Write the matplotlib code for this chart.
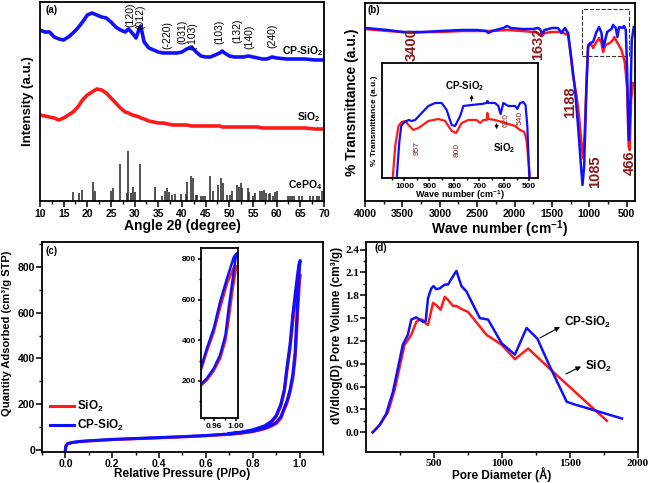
import numpy as np
import matplotlib
matplotlib.use('Agg')
import matplotlib.pyplot as plt
from matplotlib.patches import Rectangle

plt.rcParams['font.family'] = ['Liberation Sans', 'DejaVu Sans']
plt.rcParams['font.weight'] = 'bold'
plt.rcParams['axes.labelweight'] = 'bold'
plt.rcParams['axes.linewidth'] = 1.3
plt.rcParams['mathtext.default'] = 'regular'

BLUE = '#1010ff'
RED = '#ff1a1a'
MAROON = '#8b1a1a'

# ---------------- (a) XRD ----------------
xrd_angle = [10, 11, 12, 13, 14, 15, 16, 17, 18, 19, 20, 21, 22, 23, 24, 25, 26, 27, 28,
             28.7, 29.5, 30.3, 31.0, 31.3, 32, 33, 34, 35, 36, 37, 38, 39, 40, 41, 42, 43,
             44, 45, 46, 47, 48, 48.5, 49, 50, 51, 52, 53, 54, 55, 56, 57, 58, 59, 60,
             62, 64, 66, 68, 70]
xrd_cp = [171, 169, 169, 164, 162, 161, 164, 168, 173, 179, 186, 188, 186, 184, 183, 179,
          174, 171, 169, 172, 168, 163, 173, 175, 159, 153, 151, 149, 148, 148, 148, 148,
          149, 152, 154, 149, 145, 144, 144, 146, 148, 150, 148, 145, 144, 144, 144, 145,
          144, 143, 142, 142, 144, 143, 142, 142, 142, 141, 141]
xrd_sio2 = [86, 85, 84, 83, 81, 83, 86, 89, 94, 101, 106, 109, 112, 111, 108, 103, 98, 93,
            89, 88, 86, 85, 84, 83, 82, 80, 79, 78, 78, 77, 76, 76, 76, 76, 75, 75, 75, 75,
            75, 75, 75, 74, 74, 74, 74, 74, 74, 74, 74, 74, 73, 73, 73, 73, 73, 73, 73, 72, 72]

cepo4_pos = [16.9, 18.3, 18.9, 21.1, 21.6, 25.0, 25.4, 26.9, 28.3, 28.7, 29.2, 29.7, 30.1,
             31.1, 34.4, 35.8, 36.5, 36.8, 37.3, 37.8, 38.5, 39.9, 40.8, 41.0, 42.0, 42.3,
             42.9, 43.2, 44.0, 44.4, 44.9, 45.9, 46.6, 47.7, 48.2, 48.6, 49.6, 50.1, 50.6,
             51.7, 52.1, 52.4, 52.7, 53.9, 54.1, 55.1, 55.5, 56.5, 57.0, 57.3, 57.7, 58.3,
             58.7, 59.3, 59.7, 60.1, 62.5, 62.8, 63.2, 63.7, 64.8, 65.3, 67.0, 67.7, 68.5,
             69.0, 69.5]
cepo4_int = [8.7, 8, 11, 19, 10, 10, 13, 37, 8, 50, 8, 14, 9, 37, 14, 5, 10, 13, 9, 6, 7, 7,
             7, 19, 25, 23, 6, 6, 5, 5, 5, 25, 10, 16, 23, 18, 6, 6, 10, 16, 14, 18, 13, 13,
             9, 5, 8, 10, 10, 11, 8, 7, 8, 5, 9, 10, 5, 5, 5, 5, 5, 5, 5, 5, 5, 5, 10]

hkl_labels = ['(120)', '(012)', '(-220)', '(031)', '(-103)', '(103)', '(132)', '(140)', '(240)']
hkl_pos = [29.1, 31.2, 37.0, 40.0, 42.1, 48.0, 51.8, 54.2, 59.1]
hkl_y = [186, 184, 166, 169, 165, 169, 170, 164, 165]

# ---------------- (b) FTIR ----------------
ftir_wn_cp = [4000, 3700, 3500, 3400, 3200, 3000, 2700, 2500, 2380, 2350, 2300, 2150, 2100,
              2050, 1900, 1750, 1690, 1660, 1632, 1600, 1500, 1420, 1372, 1328, 1284, 1239,
              1195, 1150, 1118, 1092, 1070, 1039, 1017, 985, 950, 905, 870, 838, 816, 794,
              763, 705, 683, 647, 625, 603, 558, 536, 513, 496, 477, 469, 451, 433, 406]
ftir_cp = [173, 171, 169, 169, 169, 170, 171, 171, 170, 168, 170, 173, 175, 173, 172, 172,
           173, 172, 167, 171, 173, 173, 168, 173, 168, 141, 114, 74, 41, 16, 34, 114, 154,
           158, 159, 169, 174, 168, 154, 159, 169, 172, 176, 173, 164, 174, 173, 175, 171,
           134, 68, 61, 101, 161, 174]
ftir_wn_sio2 = [4000, 3700, 3500, 3400, 3200, 3000, 2700, 2500, 2300, 2100, 1900, 1750, 1690,
                1632, 1600, 1500, 1400, 1350, 1284, 1253, 1217, 1173, 1137, 1106, 1084, 1062,
                1039, 1017, 985, 950, 905, 870, 838, 816, 783, 727, 683, 668, 630, 571, 527,
                496, 474, 460, 442, 416]
ftir_sio2 = [172, 170, 169, 168, 169, 169, 170, 170, 170, 171, 170, 169, 168, 165, 168, 169,
             169, 168, 166, 148, 124, 106, 84, 58, 43, 68, 118, 156, 158, 153, 159, 163, 158,
             149, 156, 158, 161, 164, 159, 151, 139, 114, 54, 51, 101, 118]
ftir_labels = ['3400', '1632', '1188', '1085', '466']
ftir_label_x = [3372, 1690, 1254, 918, 460]
ftir_label_y = [156, 157, 99, 29, 38]

inset_wn_cp = [1031, 1021, 1013, 1004, 984, 971, 957, 931, 904, 877, 851, 831, 811, 797, 777,
               764, 731, 691, 671, 668, 664, 637, 624, 615, 604, 584, 557, 548, 537, 524, 515,
               508, 500]
inset_cp = [0, 35, 52, 55, 58, 57, 58, 65, 72, 75, 75, 68, 53, 52, 62, 72, 73, 74, 75, 77, 75,
            75, 72, 64, 75, 72, 72, 69, 75, 76, 73, 52, 0]
inset_wn_sio2 = [1047, 1037, 1024, 1011, 997, 984, 964, 944, 904, 864, 837, 811, 793, 771, 744,
                 711, 697, 684, 671, 668, 664, 637, 597, 557, 537, 520, 511, 497]
inset_sio2 = [0, 32, 52, 56, 57, 53, 48, 50, 57, 59, 57, 47, 45, 55, 58, 58, 55, 58, 58, 65,
              59, 58, 55, 52, 48, 46, 38, 0]
inset_labels = ['957', '800', '620', '540']
inset_label_x = [951, 791, 591, 535]
inset_label_y = [30, 28, 58, 60]

# ---------------- (c) N2 isotherm ----------------
p_ads = [0.0, 0.002, 0.01, 0.03, 0.06, 0.1, 0.2, 0.3, 0.4, 0.5, 0.6, 0.7, 0.75, 0.8, 0.85,
         0.88, 0.9, 0.92, 0.935, 0.946, 0.959, 0.971, 0.981, 0.987, 0.994, 1.0, 1.003]
cp_ads = [0, 18, 28, 33, 37, 40, 46, 50, 54, 58, 63, 70, 75, 82, 95, 108, 120, 145, 184, 213,
          262, 328, 426, 557, 689, 803, 828]
sio2_ads = [0, 17, 27, 32, 36, 39, 45, 49, 53, 57, 62, 68, 73, 80, 92, 104, 115, 138, 178,
            204, 250, 310, 400, 500, 640, 740, 760]
p_des = [1.003, 0.997, 0.984, 0.971, 0.959, 0.946, 0.935, 0.92, 0.9, 0.88, 0.85, 0.8, 0.75,
         0.7]
cp_des = [828, 811, 705, 590, 459, 360, 265, 200, 150, 125, 105, 88, 78, 72]
sio2_des = [765, 760, 680, 560, 440, 345, 255, 192, 145, 120, 100, 85, 76, 70]

# ---------------- (d) pore size distribution ----------------
d_cp = [50, 99, 148, 198, 271, 308, 333, 370, 394, 419, 439, 456, 480, 497, 517, 542, 579,
        603, 640, 665, 702, 739, 775, 837, 898, 997, 1095, 1181, 1260, 1353, 1476, 1525, 1882]
v_cp = [0.0, 0.09, 0.24, 0.53, 1.15, 1.28, 1.48, 1.51, 1.48, 1.45, 1.46, 1.76, 1.89, 1.92,
        1.88, 1.89, 1.94, 1.94, 2.05, 2.12, 1.92, 1.85, 1.72, 1.50, 1.48, 1.17, 1.02, 1.37,
        1.23, 0.86, 0.40, 0.37, 0.18]
d_sio2 = [50, 99, 161, 210, 284, 308, 333, 370, 394, 414, 439, 456, 493, 517, 549, 579, 603,
          640, 665, 702, 751, 886, 997, 1095, 1193, 1378, 1771]
v_sio2 = [0.0, 0.09, 0.26, 0.55, 1.15, 1.21, 1.28, 1.45, 1.48, 1.48, 1.43, 1.41, 1.70, 1.67,
          1.61, 1.78, 1.74, 1.66, 1.66, 1.62, 1.58, 1.28, 1.15, 0.96, 1.10, 0.79, 0.15]


def style_ticks(ax, size=7.5, length=4, pad=1.5):
    ax.tick_params(which='major', direction='out', length=length, width=1.1, labelsize=size,
                   pad=pad)
    ax.tick_params(which='minor', direction='out', length=length * 0.55, width=1.0)
    for lab in ax.get_xticklabels() + ax.get_yticklabels():
        lab.set_fontweight('bold')


fig = plt.figure(figsize=(6.52, 4.83), dpi=100)

# (a)
ax = fig.add_axes([0.0613, 0.5839, 0.4356, 0.4120])
ax.plot(xrd_angle, xrd_cp, color=BLUE, lw=2.6)
ax.plot(xrd_angle, xrd_sio2, color=RED, lw=2.6)
ax.vlines(cepo4_pos, 0, cepo4_int, color='#333333', lw=1.2)
ax.set_xlim(10, 70)
ax.set_ylim(0, 199)
ax.set_xticks(range(10, 71, 5))
ax.set_xticks(np.arange(12.5, 70, 5), minor=True)
ax.set_yticks([])
style_ticks(ax)
ax.set_xlabel('Angle 2θ (degree)', fontsize=10, labelpad=0)
ax.set_ylabel('Intensity (a.u.)', fontsize=9.5, labelpad=4)
for lab, x, y in zip(hkl_labels, hkl_pos, hkl_y):
    ax.text(x, y, lab, rotation=90, ha='center', va='center', fontsize=7.5, fontweight='normal')
ax.text(11.1, 191, '(a)', fontsize=7, ha='left', va='center')
ax.text(61.2, 150, 'CP-SiO$_2$', fontsize=7.5, ha='left', va='center')
ax.text(64.3, 84, 'SiO$_2$', fontsize=7.5, ha='left', va='center')
ax.text(62.4, 16, 'CePO$_4$', fontsize=7.5, ha='left', va='center')

# (b)
ax = fig.add_axes([0.5598, 0.5839, 0.4141, 0.4099])
ax.plot(ftir_wn_sio2, ftir_sio2, color=RED, lw=1.8)
ax.plot(ftir_wn_cp, ftir_cp, color=BLUE, lw=1.8)
ax.set_xlim(4000, 390)
ax.set_ylim(0, 198)
ax.set_xticks(range(4000, 499, -500))
ax.set_xticks(range(3750, 499, -500), minor=True)
ax.set_yticks([])
style_ticks(ax)
ax.set_xlabel('Wave number (cm$^{-1}$)', fontsize=10, labelpad=0)
ax.set_ylabel('% Transmittance (a.u.)', fontsize=10, labelpad=4)
ax.add_patch(Rectangle((1101, 145), 473 - 1101, 47, fill=False, ls='--', lw=0.8, ec='#333333'))
for lab, x, y in zip(ftir_labels, ftir_label_x, ftir_label_y):
    ax.text(x, y, lab, rotation=90, ha='center', va='center', fontsize=10.5, color=MAROON)
ax.text(3960, 191, '(b)', fontsize=7, ha='left', va='center')

# inset of (b)
ax = fig.add_axes([0.5859, 0.6315, 0.2393, 0.2381])
ax.plot(inset_wn_sio2, inset_sio2, color=RED, lw=1.6)
ax.plot(inset_wn_cp, inset_cp, color=BLUE, lw=1.6)
ax.set_xlim(1090, 465)
ax.set_ylim(0, 115)
ax.set_xticks(range(1000, 499, -100))
ax.set_xticks(range(1050, 499, -100), minor=True)
ax.set_yticks([])
style_ticks(ax, size=6, length=2.5, pad=0.8)
ax.set_xlabel('Wave number (cm$^{-1}$)', fontsize=6.5, labelpad=-1)
ax.set_ylabel('% Transmittance (a.u.)', fontsize=6, labelpad=3)
for lab, x, y in zip(inset_labels, inset_label_x, inset_label_y):
    ax.text(x, y, lab, rotation=90, ha='center', va='center', fontsize=6, fontweight='normal',
            color=MAROON)
ax.text(760, 92, 'CP-SiO$_2$', fontsize=7, ha='center', va='center')
ax.annotate('', xy=(731, 86), xytext=(731, 74),
            arrowprops=dict(arrowstyle='-|>', color='black', lw=0.7, mutation_scale=5))
ax.text(600, 30, 'SiO$_2$', fontsize=7, ha='center', va='center')
ax.annotate('', xy=(631, 46), xytext=(631, 57),
            arrowprops=dict(arrowstyle='-|>', color='black', lw=0.7, mutation_scale=5))

# (c)
ax = fig.add_axes([0.0644, 0.0642, 0.4310, 0.4348])
ax.plot(p_ads + p_des, sio2_ads + sio2_des, color=RED, lw=2.2, label='SiO$_2$')
ax.plot(p_ads + p_des, cp_ads + cp_des, color=BLUE, lw=2.2, label='CP-SiO$_2$')
ax.set_xlim(-0.1, 1.1)
ax.set_ylim(-9, 909)
ax.set_xticks(np.arange(0, 1.01, 0.2))
ax.set_xticks(np.arange(-0.1, 1.11, 0.2), minor=True)
ax.set_yticks(range(0, 801, 200))
ax.set_yticks(range(100, 901, 200), minor=True)
ax.xaxis.set_major_formatter(matplotlib.ticker.FormatStrFormatter('%.1f'))
style_ticks(ax, pad=1)
ax.set_xlabel('Relative Pressure (P/Po)', fontsize=8.5, labelpad=-0.5)
ax.set_ylabel('Quantity Adsorbed (cm³/g STP)', fontsize=8, labelpad=2)
ax.yaxis.set_label_coords(-0.105, 0.565)
ax.text(0.012, 0.955, '(c)', transform=ax.transAxes, fontsize=7, ha='left', va='center')
ax.legend(loc='upper left', bbox_to_anchor=(0.0, 0.29), frameon=False, fontsize=8.5,
          handlelength=2.0, handletextpad=0.3, labelspacing=0.3, borderpad=0.2)

# inset of (c)
ax = fig.add_axes([0.3083, 0.1346, 0.0567, 0.3520])
ax.plot(p_ads + p_des, sio2_ads + sio2_des, color=RED, lw=1.8)
ax.plot(p_ads + p_des, cp_ads + cp_des, color=BLUE, lw=1.8)
ax.set_xlim(0.935, 1.0046)
ax.set_ylim(18, 854)
ax.set_xticks([0.96, 1.00])
ax.set_xticks([0.94, 0.98], minor=True)
ax.set_yticks(range(200, 801, 200))
ax.set_yticks(range(100, 801, 200), minor=True)
ax.xaxis.set_major_formatter(matplotlib.ticker.FormatStrFormatter('%.2f'))
style_ticks(ax, size=6, length=2.5, pad=1)

# (d)
ax = fig.add_axes([0.5613, 0.0642, 0.4172, 0.4348])
ax.plot(d_sio2, v_sio2, color=RED, lw=1.8)
ax.plot(d_cp, v_cp, color=BLUE, lw=1.8)
ax.set_xlim(0, 2000)
ax.set_ylim(-0.26, 2.5)
ax.set_xticks(range(500, 2001, 500))
ax.set_xticks(range(250, 2001, 500), minor=True)
ax.set_yticks(np.arange(0, 2.41, 0.3))
ax.set_yticks(np.arange(0.15, 2.41, 0.3), minor=True)
ax.yaxis.set_major_formatter(matplotlib.ticker.FormatStrFormatter('%.1f'))
style_ticks(ax, pad=1)
for lab in ax.get_xticklabels() + ax.get_yticklabels():
    lab.set_family('Liberation Serif')
    lab.set_fontsize(8)
ax.set_xlabel('Pore Diameter (Å)', fontsize=8.5, labelpad=-0.5)
ax.set_ylabel('dV/dlog(D) Pore Volume (cm³/g)', fontsize=8.5, labelpad=3)
ax.yaxis.set_label_coords(-0.085, 0.555)
ax.text(60, 2.42, '(d)', fontsize=7, ha='left', va='center')
ax.text(1455, 1.44, 'CP-SiO$_2$', fontsize=8.5, ha='left', va='center')
ax.annotate('', xy=(1445, 1.40), xytext=(1260, 1.22),
            arrowprops=dict(arrowstyle='-|>', color='black', lw=0.8, mutation_scale=7))
ax.text(1610, 0.86, 'SiO$_2$', fontsize=8.5, ha='left', va='center')
ax.annotate('', xy=(1600, 0.88), xytext=(1452, 0.75),
            arrowprops=dict(arrowstyle='-|>', color='black', lw=0.8, mutation_scale=7))

fig.savefig('out.png', dpi=100)
